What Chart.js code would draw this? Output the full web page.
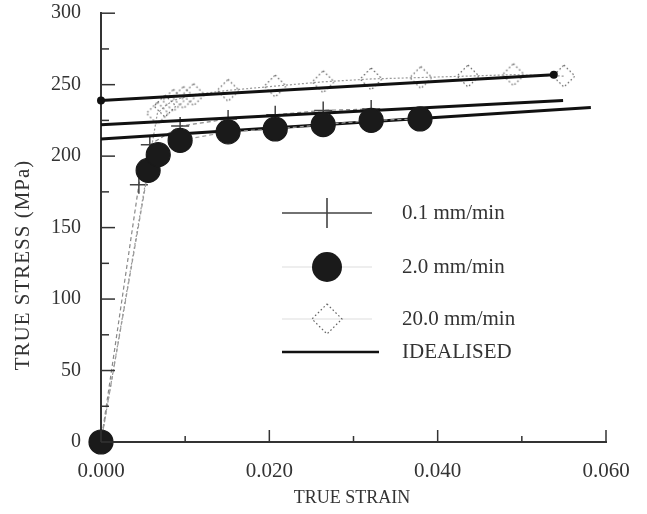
<!DOCTYPE html>
<html>
<head>
<meta charset="utf-8">
<script src="https://cdn.jsdelivr.net/npm/chart.js@4.4.1/dist/chart.umd.min.js"></script>
<style>
  html, body { margin: 0; padding: 0; background: #fff; }
  #wrap { width: 647px; height: 514px; }
</style>
</head>
<body>
<div id="wrap"><canvas id="stressChart" width="647" height="514"></canvas></div>
<script>
// Test series (strain, stress in MPa)
const rate01Strain = [0, 0.0045, 0.0058, 0.0094, 0.0151, 0.0207, 0.0264, 0.0321];
const rate01Stress = [0, 180, 208, 221, 226, 229, 232, 233];

const rate20Strain = [0, 0.0056, 0.0068, 0.0094, 0.0151, 0.0207, 0.0264, 0.0321, 0.0379];
const rate20Stress = [0, 190, 201, 211, 217, 219, 222, 225, 226];

const rate200Strain = [0, 0.0067, 0.0076, 0.0086, 0.0098, 0.0110, 0.0151, 0.0207, 0.0264, 0.0321, 0.0380, 0.0436, 0.0490, 0.0550];
const rate200Stress = [0, 230, 235, 239, 241, 243, 246, 249, 252, 254, 255, 256, 257, 256];

// Idealised straight lines (start and end points)
const idealTopStrain = [0, 0.0538];
const idealTopStress = [239, 257];
const idealMidStrain = [0, 0.0549];
const idealMidStress = [222, 239];
const idealLowStrain = [0, 0.0582];
const idealLowStress = [212, 234];

const xTicks = [0, 0.02, 0.04, 0.06];
const yTicks = [0, 50, 100, 150, 200, 250, 300];

const legendLabels = ['0.1 mm/min', '2.0 mm/min', '20.0 mm/min', 'IDEALISED'];

function toPoints(xs, ys) {
    return xs.map((x, i) => ({ x: x, y: ys[i] }));
}

// dotted hollow diamond used as point style
function makeDiamond(half) {
    const c = document.createElement('canvas');
    const s = half * 2 + 4;
    c.width = s; c.height = s;
    const g = c.getContext('2d');
    const m = s / 2;
    g.strokeStyle = '#666';
    g.lineWidth = 1.2;
    g.setLineDash([1.6, 2.4]);
    g.beginPath();
    g.moveTo(m, m - half);
    g.lineTo(m + half, m);
    g.lineTo(m, m + half);
    g.lineTo(m - half, m);
    g.closePath();
    g.stroke();
    return c;
}
const diamondSmall = makeDiamond(11);
const diamondBig = makeDiamond(15);

const serif = '"Liberation Serif", "DejaVu Serif", serif';
const inkColor = '#333';

function idealLine(xs, ys, dots) {
    return {
        label: 'IDEALISED',
        data: toPoints(xs, ys),
        borderColor: '#111',
        borderWidth: 3,
        pointRadius: dots ? 2.5 : 0,
        pointBackgroundColor: '#111',
        pointBorderColor: '#111',
        fill: false,
        clip: false,
        order: 1
    };
}

// draws inward tick marks, axis titles and the boxed-in legend
const decorPlugin = {
    id: 'decor',
    afterDraw(chart) {
        const ctx = chart.ctx;
        const xs = chart.scales.x;
        const ys = chart.scales.y;
        const area = chart.chartArea;
        ctx.save();
        ctx.strokeStyle = inkColor;
        ctx.lineWidth = 1.5;
        // y ticks every 25, longer every 50
        for (let v = 0; v <= 300; v += 25) {
            const py = ys.getPixelForValue(v);
            const len = v % 50 === 0 ? 14 : 8;
            ctx.beginPath();
            ctx.moveTo(area.left, py);
            ctx.lineTo(area.left + len, py);
            ctx.stroke();
        }
        // x ticks every 0.010, longer every 0.020
        for (let k = 0; k <= 6; k++) {
            const px = xs.getPixelForValue(k * 0.01);
            const len = k % 2 === 0 ? 12 : 6;
            ctx.beginPath();
            ctx.moveTo(px, area.bottom);
            ctx.lineTo(px, area.bottom - len);
            ctx.stroke();
        }

        // axis titles
        ctx.fillStyle = inkColor;
        ctx.font = '18px ' + serif;
        ctx.textAlign = 'center';
        ctx.textBaseline = 'middle';
        ctx.fillText('TRUE STRAIN', 352, 498);
        ctx.save();
        ctx.translate(23, 265);
        ctx.rotate(-Math.PI / 2);
        ctx.font = '21px ' + serif;
        ctx.letterSpacing = '1px';
        ctx.fillText('TRUE STRESS (MPa)', 0, 0);
        ctx.restore();

        // legend
        const lx0 = 282, lx1 = 372, mx = 327, tx = 402;
        const rows = [213, 267, 319, 352];
        // 0.1 mm/min
        ctx.strokeStyle = '#444';
        ctx.lineWidth = 1.6;
        ctx.beginPath();
        ctx.moveTo(lx0, rows[0]); ctx.lineTo(lx1, rows[0]);
        ctx.moveTo(mx, rows[0] - 15); ctx.lineTo(mx, rows[0] + 15);
        ctx.stroke();
        // 2.0 mm/min
        ctx.strokeStyle = '#ddd';
        ctx.lineWidth = 1;
        ctx.beginPath();
        ctx.moveTo(lx0, rows[1]); ctx.lineTo(lx1, rows[1]);
        ctx.moveTo(lx0, rows[2]); ctx.lineTo(lx1, rows[2]);
        ctx.stroke();
        ctx.fillStyle = '#1a1a1a';
        ctx.beginPath();
        ctx.arc(mx, rows[1], 15, 0, Math.PI * 2);
        ctx.fill();
        // 20.0 mm/min
        ctx.drawImage(diamondBig, mx - diamondBig.width / 2, rows[2] - diamondBig.height / 2);
        // idealised
        ctx.strokeStyle = '#111';
        ctx.lineWidth = 2.5;
        ctx.beginPath();
        ctx.moveTo(lx0, rows[3]); ctx.lineTo(lx1 + 7, rows[3]);
        ctx.stroke();

        ctx.fillStyle = inkColor;
        ctx.font = '21px ' + serif;
        ctx.textAlign = 'left';
        ctx.textBaseline = 'middle';
        legendLabels.forEach((t, i) => ctx.fillText(t, tx, rows[i]));
        ctx.restore();
    }
};

const ctx = document.getElementById('stressChart').getContext('2d');
new Chart(ctx, {
    type: 'line',
    data: {
        datasets: [
            {
                label: legendLabels[1],
                data: toPoints(rate20Strain, rate20Stress),
                borderColor: '#999',
                borderWidth: 1.2,
                borderDash: [4, 3],
                pointStyle: 'circle',
                pointRadius: 12,
                pointBackgroundColor: '#1a1a1a',
                pointBorderColor: '#1a1a1a',
                fill: false,
                clip: false,
                order: 0
            },
            idealLine(idealTopStrain, idealTopStress, true),
            idealLine(idealMidStrain, idealMidStress, false),
            idealLine(idealLowStrain, idealLowStress, false),
            {
                label: legendLabels[0],
                data: toPoints(rate01Strain, rate01Stress),
                borderColor: '#888',
                borderWidth: 1.2,
                borderDash: [4, 3],
                pointStyle: 'cross',
                pointRadius: 9,
                pointBorderColor: '#444',
                pointBorderWidth: 1.5,
                fill: false,
                clip: false,
                order: 2
            },
            {
                label: legendLabels[2],
                data: toPoints(rate200Strain, rate200Stress),
                borderColor: '#999',
                borderWidth: 1.2,
                borderDash: [2, 2],
                pointStyle: diamondSmall,
                pointRadius: 11,
                fill: false,
                clip: false,
                order: 3
            }
        ]
    },
    options: {
        responsive: false,
        animation: false,
        layout: { padding: { top: 10, right: 41, left: 0, bottom: 0 } },
        plugins: {
            legend: { display: false },
            tooltip: { enabled: false }
        },
        scales: {
            x: {
                type: 'linear',
                min: 0,
                max: 0.06,
                afterFit: s => { s.height = 72; s.paddingLeft = 0; s.paddingRight = 0; },
                afterBuildTicks: s => { s.ticks = xTicks.map(v => ({ value: v })); },
                grid: { display: false },
                border: { display: true, color: inkColor, width: 2 },
                ticks: {
                    color: inkColor,
                    font: { family: serif, size: 21 },
                    padding: 9,
                    maxRotation: 0,
                    callback: v => v.toFixed(3)
                }
            },
            y: {
                type: 'linear',
                min: 0,
                max: 300,
                afterFit: s => { s.width = 101; s.paddingTop = 0; s.paddingBottom = 0; },
                afterBuildTicks: s => { s.ticks = yTicks.map(v => ({ value: v })); },
                grid: { display: false },
                border: { display: true, color: inkColor, width: 2 },
                ticks: {
                    color: inkColor,
                    font: { family: serif, size: 20 },
                    padding: 12
                }
            }
        }
    },
    plugins: [decorPlugin]
});
</script>
</body>
</html>
